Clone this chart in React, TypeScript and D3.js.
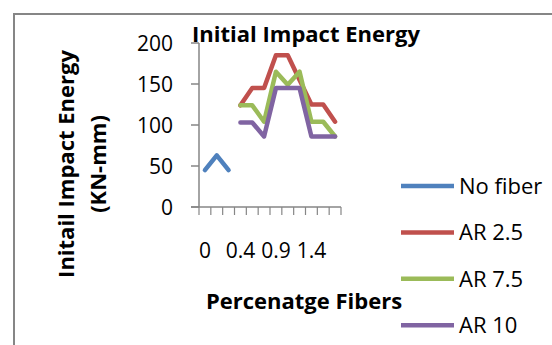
import * as d3 from 'd3'

const categories = ['0', '0', '0', '0.4', '0.4', '0.4', '0.9', '0.9', '0.9', '1.4', '1.4', '1.4']
const noFiber = [45, 63, 45, null, null, null, null, null, null, null, null, null]
const ar25 = [null, null, null, 124, 145, 145, 185, 185, 155, 125, 125, 104]
const ar75 = [null, null, null, 124, 124, 104, 165, 149, 165, 104, 104, 86]
const ar10 = [null, null, null, 103, 103, 86, 145, 145, 145, 86, 86, 86]
const yTicks = [0, 50, 100, 150, 200]

const series = [
  { name: 'No fiber', values: noFiber, color: '#4F81BD' },
  { name: 'AR 2.5', values: ar25, color: '#C0504D' },
  { name: 'AR 7.5', values: ar75, color: '#9BBB59' },
  { name: 'AR 10', values: ar10, color: '#8064A2' },
]

const font = '"Open Sans", sans-serif'
const axisColor = '#868686'

export default function App() {
  const width = 552
  const height = 345
  const plot = { left: 199, right: 341, top: 43, bottom: 207 }

  const x = d3
    .scaleBand<number>()
    .domain(categories.map((_, i) => i))
    .range([plot.left, plot.right])
  const y = d3.scaleLinear().domain([0, 200]).range([plot.bottom, plot.top])
  const cx = (i: number) => (x(i) ?? 0) + x.bandwidth() / 2

  const line = d3
    .line<number | null>()
    .defined((d) => d != null)
    .x((_, i) => cx(i))
    .y((d) => y(d as number))

  const boundaries = d3.range(categories.length + 1).map((i) => plot.left + i * x.step())

  return (
    <svg
      width={width}
      height={height}
      style={{ position: 'absolute', left: 0, top: 0, display: 'block', background: '#fff' }}
      fontFamily={font}
    >
      <rect x={14} y={14} width={600} height={400} fill="#fff" stroke={axisColor} strokeWidth={2} />

      {/* y axis */}
      <line x1={plot.left} y1={plot.top} x2={plot.left} y2={plot.bottom} stroke={axisColor} strokeWidth={1.5} />
      {yTicks.map((t) => (
        <g key={t}>
          <line x1={plot.left - 8} y1={y(t)} x2={plot.left} y2={y(t)} stroke={axisColor} strokeWidth={1.5} />
          <text x={173} y={y(t)} dy="0.36em" textAnchor="end" fontSize={21} fill="#000">
            {t}
          </text>
        </g>
      ))}

      {/* x axis */}
      <line x1={plot.left - 8} y1={plot.bottom} x2={plot.right} y2={plot.bottom} stroke={axisColor} strokeWidth={1.5} />
      {boundaries.map((bx, i) => (
        <line key={i} x1={bx} y1={plot.bottom} x2={bx} y2={plot.bottom + 8} stroke={axisColor} strokeWidth={1.2} />
      ))}
      {categories.map((c, i) =>
        i % 3 === 0 ? (
          <text key={i} x={cx(i)} y={258} textAnchor="middle" fontSize={21} fill="#000">
            {c}
          </text>
        ) : null,
      )}

      {/* series */}
      {series.map((s) => (
        <path
          key={s.name}
          d={line(s.values) ?? ''}
          fill="none"
          stroke={s.color}
          strokeWidth={4.5}
          strokeLinejoin="round"
          strokeLinecap="round"
        />
      ))}

      {/* titles */}
      <text x={306} y={42} textAnchor="middle" fontSize={22} fontWeight="bold" fill="#000">
        Initial Impact Energy
      </text>
      <text x={304} y={309} textAnchor="middle" fontSize={22} fontWeight="bold" fill="#000">
        Percenatge Fibers
      </text>
      <g transform="translate(66,164) rotate(-90)">
        <text x={0} y={0} dy="0.36em" textAnchor="middle" fontSize={22} fontWeight="bold" fill="#000">
          Initail Impact Energy
        </text>
        <text x={0} y={32} dy="0.36em" textAnchor="middle" fontSize={22} fontWeight="bold" fill="#000">
          (KN-mm)
        </text>
      </g>

      {/* legend */}
      {series.map((s, i) => {
        const ly = 186 + i * 46.4
        return (
          <g key={s.name}>
            <line x1={401} y1={ly} x2={454} y2={ly} stroke={s.color} strokeWidth={4.5} />
            <text x={459} y={ly} dy="0.36em" fontSize={22} fill="#000">
              {s.name}
            </text>
          </g>
        )
      })}
    </svg>
  )
}
